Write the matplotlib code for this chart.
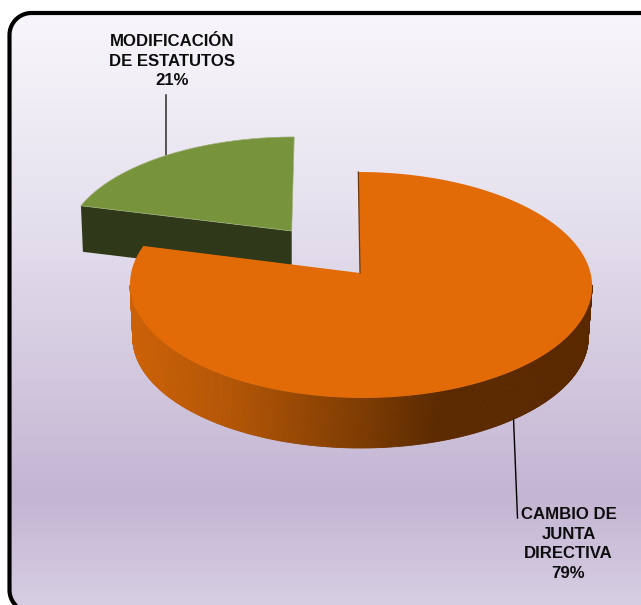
import numpy as np
import matplotlib
matplotlib.use("Agg")
import matplotlib.pyplot as plt
from matplotlib.collections import PolyCollection
from matplotlib.colors import LinearSegmentedColormap
from matplotlib.patches import Polygon

plt.rcParams["font.family"] = ["Liberation Sans", "DejaVu Sans"]

# Chart data
labels = ["CAMBIO DE\nJUNTA\nDIRECTIVA", "MODIFICACIÓN\nDE ESTATUTOS"]
shares = [79, 21]

ORANGE = "#E26B07"
GREEN = "#77933C"
GREEN_DARK = "#2F3818"

PERSP = 0.106  # how much the front of the pie is enlarged


def project(theta, cx, cy, rx, ry, lean=0.0):
    """Clockwise angle from 12 o'clock to pixel position on a tilted disc."""
    den = 1 + PERSP * np.cos(theta)
    x = cx + rx * np.sin(theta) / den + lean * np.cos(theta)
    y = cy - ry * np.cos(theta) / den
    return x, y


def rim(start, end, **disc):
    t = np.linspace(start, end, 240)
    x, y = project(t, **disc)
    return np.column_stack([x, y])


def rounded_rect(x0, y0, x1, y1, r):
    """Outline of a rounded rectangle as plain points (y grows downward)."""
    corners = [(x0 + r, y0 + r, 180), (x1 - r, y0 + r, 270), (x1 - r, y1 - r, 0), (x0 + r, y1 - r, 90)]
    pts = []
    for cx, cy, a in corners:
        ang = np.radians(np.linspace(a, a + 90, 30))
        pts.append(np.column_stack([cx + r * np.cos(ang), cy + r * np.sin(ang)]))
    return np.vstack(pts)


fig = plt.figure(figsize=(6.41, 6.05), dpi=100)
ax = fig.add_axes([0, 0, 1, 1])

# Background panel with vertical gradient
bg_cmap = LinearSegmentedColormap.from_list(
    "bg", [(0, "#F8F6FB"), (0.33, "#E6E1EE"), (0.81, "#C4B5D3"), (1, "#D7CFE3")]
)
bg = ax.imshow(np.linspace(0, 1, 300).reshape(-1, 1), cmap=bg_cmap, aspect="auto",
               extent=(9, 669, 612, 13), zorder=1)
frame = Polygon(rounded_rect(9.5, 13, 670, 612, 22), closed=True, fc="none", ec="black", lw=3, zorder=2)
ax.add_patch(frame)
bg.set_clip_path(frame)
ax.set_xlim(0, 641)
ax.set_ylim(605, 0)
ax.axis("off")

# Slice angles come from the shares
split = 2 * np.pi * shares[0] / sum(shares)

# Green slice (pulled out, behind the orange one)
g_top = dict(cx=291.7, cy=231, rx=224, ry=104, lean=2.5)
g_rim = rim(split, 2 * np.pi, **g_top)
apex = (g_top["cx"], g_top["cy"])
g_depth = 46
cut = np.array([g_rim[0], apex, (apex[0], apex[1] + g_depth), g_rim[0] + (2, g_depth)])
ax.add_patch(Polygon(cut, fc=GREEN_DARK, ec="none", zorder=3))
ax.add_patch(Polygon(np.vstack([[apex], g_rim]), fc=GREEN, ec="#9DB07A", lw=0.5, zorder=4))

# Leader of the green label sits behind the slice
ax.plot([166, 166], [95, 155], color="#2B2B2B", lw=1.1, zorder=2.5)

# Orange slice side wall, only the part facing the viewer, shaded left to right
o_top = dict(cx=360.8, cy=273, rx=229.7, ry=111.7, lean=-2.5)
o_bot = dict(cx=360.5, cy=325.5, rx=226.5, ry=109.5)
turn = np.arccos(-PERSP)
t = np.linspace(turn, min(split, 2 * np.pi - turn), 361)
xt, yt = project(t, **o_top)
xb, yb = project(t, **o_bot)
quads = [
    [(xt[i], yt[i]), (xt[i + 1], yt[i + 1]), (xb[i + 1], yb[i + 1]), (xb[i], yb[i])]
    for i in range(len(t) - 1)
]
side_cmap = LinearSegmentedColormap.from_list(
    "side", [(0, "#CC6208"), (0.24, "#B05405"), (0.5, "#7E3C02"), (0.67, "#5C2A00"), (1, "#5A2900")]
)
mid_x = np.array([q[0][0] for q in quads])
side = PolyCollection(quads, array=(mid_x - 130) / 462, cmap=side_cmap, clim=(0, 1),
                      edgecolors="face", linewidths=0.6, zorder=5)
ax.add_collection(side)

# Orange slice top
o_rim = rim(0, split, **o_top)
o_apex = (o_top["cx"] - 0.8, o_top["cy"])
ax.add_patch(Polygon(np.vstack([[o_apex], o_rim]), fc=ORANGE, ec="none", zorder=6))
ax.plot([o_rim[0][0], o_apex[0]], [o_rim[0][1], o_apex[1]], color="#6B3A10", lw=0.9, zorder=6)

# Leader of the orange label
ax.plot([513.5, 517.5], [418, 518], color="black", lw=1.0, zorder=2.5)

# Labels
ax.text(172, 61, f"{labels[1]}\n{shares[1]}%", ha="center", va="center", fontsize=12.1,
        fontweight="bold", linespacing=1.38, color="#0D0D0D", zorder=8)
ax.text(568.5, 544, f"{labels[0]}\n{shares[0]}%", ha="center", va="center", fontsize=12.1,
        fontweight="bold", linespacing=1.38, color="#0D0D0D", zorder=8)

fig.savefig("out.png", dpi=100, facecolor="white")
